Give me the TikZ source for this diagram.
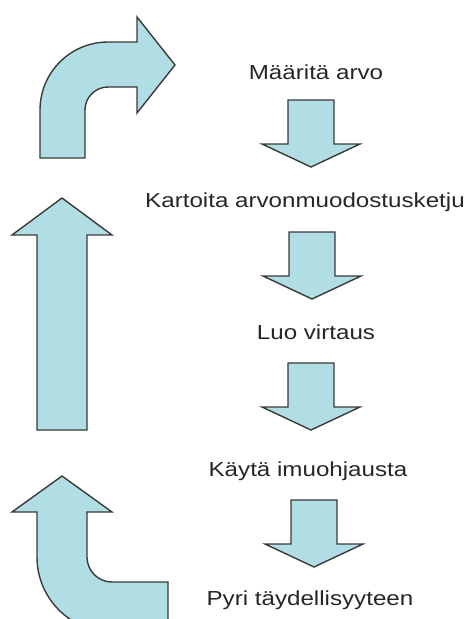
\documentclass[tikz,border=0pt]{standalone}
\usepackage{fontspec}
\newfontfamily\stepfont[FakeStretch=1.19]{Liberation Sans}
\usetikzlibrary{positioning}
\definecolor{arrowfill}{HTML}{B0DEE4}
\definecolor{arrowline}{HTML}{3A3A3A}
\definecolor{steptext}{HTML}{262626}

\begin{document}
\begin{tikzpicture}[x=1pt,y=-1pt,
  blockarrow/.style={draw=arrowline,fill=arrowfill,line width=1.4pt},
  steplabel/.style={font=\stepfont\fontsize{20.3}{24}\selectfont,text=steptext,inner sep=0pt,anchor=base}]
  \useasboundingbox (0,0) rectangle (472,619);
  \clip (0,0) rectangle (472,619);

  % Steps
  \node[steplabel] (define) at (316,79) {Määritä arvo};
  \node[steplabel] (map) at (305,207) {Kartoita arvonmuodostusketju};
  \node[steplabel] (flow) at (316,339) {Luo virtaus};
  \node[steplabel] (pull) at (308,476) {Käytä imuohjausta};
  \node[steplabel] (perfect) at (310,605) {Pyri täydellisyyteen};

  % Down arrows between the steps
  \foreach \cx/\ty in {311/100,312/232,311/363,314/500}
    \draw[blockarrow] (\cx-23,\ty) -- (\cx+23,\ty) -- (\cx+23,\ty+44) -- (\cx+49,\ty+44)
      -- (\cx,\ty+67) -- (\cx-49,\ty+44) -- (\cx-23,\ty+44) -- cycle;

  % Return loop on the left
  \draw[blockarrow] (37,557) -- (37,512) -- (12,512) -- (62,476) -- (112,512) -- (87,512)
    -- (87,557) arc[start angle=180,end angle=90,radius=25] -- (168,582) -- (168,632)
    -- (112,632) arc[start angle=90,end angle=180,radius=75] -- cycle;
  \draw[blockarrow] (37,430) -- (37,235) -- (12,235) -- (62,198) -- (112,235) -- (87,235)
    -- (87,430) -- cycle;
  \draw[blockarrow] (40,158) -- (40,110) arc[start angle=180,end angle=270,radius=68]
    -- (137,42) -- (137,17) -- (175,65) -- (137,113) -- (137,87) -- (108,87)
    arc[start angle=270,end angle=180,radius=23] -- (85,158) -- cycle;
\end{tikzpicture}
\end{document}
